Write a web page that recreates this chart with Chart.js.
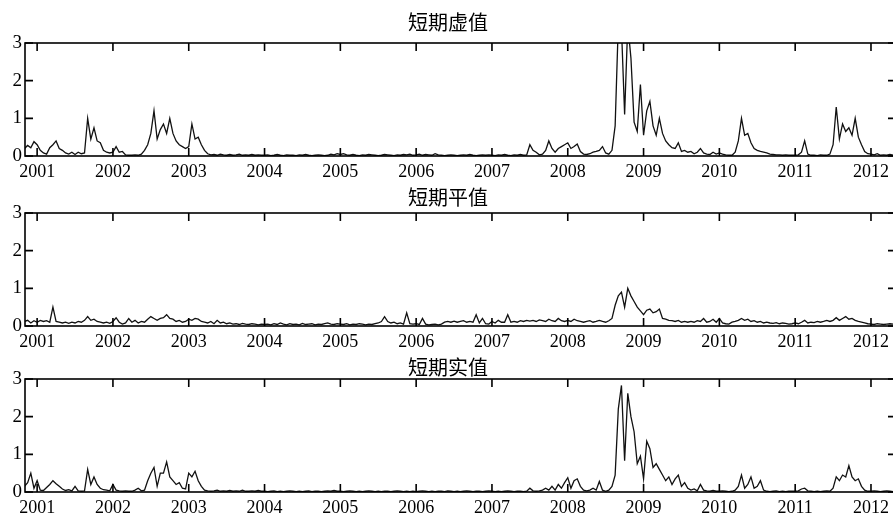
<!DOCTYPE html>
<html>
<head>
<meta charset="utf-8">
<script src="https://cdn.jsdelivr.net/npm/chart.js@4.4.0/dist/chart.umd.min.js"></script>
<style>
    html, body { margin: 0; padding: 0; background: #fff; overflow: hidden; width: 893px; height: 515px; }
    canvas { position: absolute; left: 0; }
</style>
</head>
<body>
<canvas id="c1" width="905" height="180" style="top:0px"></canvas>
<canvas id="c2" width="905" height="180" style="top:170px"></canvas>
<canvas id="c3" width="905" height="180" style="top:336px"></canvas>
<script>
// Semi-monthly samples, Nov 2000 .. Apr 2012 (4 + 11*24 + 9 values)
const startYear = 2000 + 10 / 12;
const stepYear = 1 / 24;

const yearTicks = [2001, 2002, 2003, 2004, 2005, 2006, 2007, 2008, 2009, 2010, 2011, 2012];
const valueTicks = [0, 1, 2, 3];
const titles = ["短期虚值", "短期平值", "短期实值"];

// 短期虚值
const otmValues = [
    0.20, 0.28, 0.22, 0.38,
    0.30, 0.15, 0.08, 0.05, 0.22, 0.30, 0.40, 0.20, 0.15, 0.08, 0.05, 0.10, 0.04, 0.10, 0.06, 0.08, 1.00, 0.45, 0.75, 0.40, 0.35, 0.15, 0.10, 0.08,
    0.10, 0.25, 0.10, 0.12, 0.03, 0.02, 0.02, 0.03, 0.02, 0.05, 0.15, 0.30, 0.60, 1.20, 0.45, 0.70, 0.85, 0.60, 1.00, 0.60, 0.40, 0.30, 0.25, 0.20,
    0.25, 0.85, 0.45, 0.50, 0.30, 0.15, 0.06, 0.03, 0.04, 0.02, 0.05, 0.03, 0.02, 0.04, 0.02, 0.03, 0.05, 0.02, 0.03, 0.02, 0.04, 0.02, 0.03, 0.02,
    0.02, 0.03, 0.01, 0.02, 0.04, 0.02, 0.01, 0.03, 0.02, 0.02, 0.01, 0.03, 0.02, 0.04, 0.02, 0.01, 0.02, 0.03, 0.02, 0.01, 0.02, 0.05, 0.03, 0.06,
    0.04, 0.06, 0.03, 0.02, 0.04, 0.02, 0.01, 0.03, 0.02, 0.04, 0.03, 0.02, 0.01, 0.02, 0.04, 0.03, 0.02, 0.01, 0.03, 0.02, 0.04, 0.03, 0.05, 0.02,
    0.03, 0.05, 0.02, 0.04, 0.03, 0.02, 0.06, 0.03, 0.02, 0.01, 0.02, 0.03, 0.02, 0.01, 0.02, 0.03, 0.02, 0.04, 0.02, 0.01, 0.02, 0.03, 0.02, 0.03,
    0.02, 0.01, 0.03, 0.02, 0.04, 0.02, 0.01, 0.03, 0.02, 0.04, 0.02, 0.03, 0.30, 0.15, 0.10, 0.03, 0.05, 0.15, 0.40, 0.20, 0.10, 0.20, 0.25, 0.30,
    0.35, 0.20, 0.25, 0.32, 0.12, 0.05, 0.04, 0.06, 0.10, 0.12, 0.15, 0.25, 0.08, 0.05, 0.15, 0.80, 3.50, 3.40, 1.10, 3.50, 2.60, 0.90, 0.65, 1.90,
    0.55, 1.20, 1.45, 0.80, 0.55, 1.00, 0.60, 0.40, 0.30, 0.22, 0.20, 0.35, 0.12, 0.15, 0.10, 0.12, 0.06, 0.10, 0.20, 0.08, 0.05, 0.04, 0.10, 0.05,
    0.08, 0.05, 0.03, 0.02, 0.02, 0.10, 0.40, 1.00, 0.55, 0.60, 0.35, 0.20, 0.15, 0.12, 0.10, 0.08, 0.05, 0.04, 0.03, 0.03, 0.02, 0.03, 0.02, 0.02,
    0.02, 0.03, 0.10, 0.40, 0.05, 0.02, 0.02, 0.01, 0.03, 0.02, 0.02, 0.05, 0.30, 1.30, 0.45, 0.85, 0.65, 0.75, 0.55, 1.00, 0.50, 0.30, 0.12, 0.06,
    0.05, 0.03, 0.06, 0.02, 0.03, 0.02, 0.04, 0.02, 0.03
];

// 短期平值
const atmValues = [
    0.12, 0.15, 0.08, 0.14,
    0.10, 0.15, 0.12, 0.14, 0.10, 0.50, 0.12, 0.10, 0.08, 0.10, 0.07, 0.10, 0.08, 0.12, 0.10, 0.15, 0.25, 0.15, 0.18, 0.12, 0.10, 0.08, 0.10, 0.07,
    0.12, 0.22, 0.10, 0.05, 0.08, 0.20, 0.10, 0.15, 0.08, 0.12, 0.10, 0.18, 0.25, 0.20, 0.15, 0.20, 0.22, 0.30, 0.20, 0.18, 0.12, 0.15, 0.10, 0.12,
    0.18, 0.15, 0.20, 0.18, 0.12, 0.10, 0.08, 0.12, 0.06, 0.15, 0.08, 0.10, 0.06, 0.08, 0.05, 0.06, 0.04, 0.07, 0.05, 0.04, 0.06, 0.05, 0.03, 0.05,
    0.04, 0.05, 0.03, 0.06, 0.04, 0.08, 0.05, 0.03, 0.06, 0.04, 0.05, 0.03, 0.07, 0.04, 0.05, 0.06, 0.03, 0.05, 0.04, 0.06, 0.08, 0.05, 0.04, 0.06,
    0.05, 0.04, 0.06, 0.03, 0.05, 0.04, 0.06, 0.05, 0.03, 0.05, 0.04, 0.06, 0.08, 0.12, 0.25, 0.12, 0.08, 0.10, 0.06, 0.08, 0.05, 0.35, 0.06, 0.05,
    0.06, 0.04, 0.20, 0.05, 0.03, 0.04, 0.05, 0.03, 0.05, 0.10, 0.12, 0.10, 0.13, 0.10, 0.12, 0.14, 0.10, 0.12, 0.10, 0.30, 0.08, 0.20, 0.06, 0.05,
    0.12, 0.08, 0.15, 0.10, 0.10, 0.30, 0.10, 0.12, 0.10, 0.14, 0.12, 0.15, 0.13, 0.15, 0.12, 0.16, 0.14, 0.12, 0.18, 0.14, 0.12, 0.20, 0.14, 0.12,
    0.15, 0.12, 0.18, 0.14, 0.12, 0.10, 0.12, 0.14, 0.10, 0.12, 0.15, 0.12, 0.10, 0.14, 0.20, 0.55, 0.80, 0.90, 0.50, 1.00, 0.80, 0.65, 0.50, 0.40,
    0.30, 0.42, 0.45, 0.35, 0.38, 0.45, 0.20, 0.18, 0.15, 0.14, 0.12, 0.15, 0.10, 0.12, 0.10, 0.12, 0.10, 0.14, 0.12, 0.20, 0.10, 0.12, 0.18, 0.10,
    0.20, 0.08, 0.06, 0.05, 0.10, 0.12, 0.15, 0.20, 0.15, 0.18, 0.12, 0.14, 0.10, 0.12, 0.08, 0.10, 0.08, 0.07, 0.09, 0.06, 0.08, 0.07, 0.05, 0.06,
    0.08, 0.06, 0.10, 0.15, 0.08, 0.10, 0.09, 0.12, 0.10, 0.12, 0.15, 0.12, 0.15, 0.22, 0.15, 0.20, 0.25, 0.18, 0.20, 0.15, 0.12, 0.10, 0.08, 0.06,
    0.05, 0.04, 0.06, 0.05, 0.04, 0.05, 0.06, 0.05, 0.04
];

// 短期实值
const itmValues = [
    0.15, 0.25, 0.50, 0.10,
    0.30, 0.05, 0.04, 0.12, 0.20, 0.30, 0.22, 0.15, 0.08, 0.04, 0.06, 0.03, 0.15, 0.03, 0.02, 0.03, 0.60, 0.20, 0.40, 0.20, 0.10, 0.06, 0.05, 0.03,
    0.20, 0.05, 0.03, 0.02, 0.03, 0.02, 0.02, 0.05, 0.10, 0.03, 0.05, 0.30, 0.50, 0.65, 0.15, 0.50, 0.50, 0.80, 0.40, 0.30, 0.20, 0.25, 0.10, 0.08,
    0.50, 0.40, 0.55, 0.30, 0.15, 0.05, 0.03, 0.02, 0.03, 0.05, 0.02, 0.03, 0.02, 0.04, 0.02, 0.03, 0.02, 0.05, 0.02, 0.02, 0.03, 0.02, 0.04, 0.02,
    0.02, 0.01, 0.02, 0.03, 0.01, 0.02, 0.01, 0.02, 0.03, 0.02, 0.01, 0.02, 0.01, 0.02, 0.03, 0.01, 0.02, 0.02, 0.01, 0.02, 0.03, 0.02, 0.04, 0.02,
    0.02, 0.01, 0.02, 0.03, 0.02, 0.01, 0.02, 0.01, 0.02, 0.03, 0.02, 0.01, 0.02, 0.01, 0.02, 0.02, 0.01, 0.02, 0.03, 0.02, 0.01, 0.02, 0.01, 0.02,
    0.01, 0.02, 0.03, 0.02, 0.01, 0.02, 0.01, 0.02, 0.02, 0.01, 0.03, 0.02, 0.01, 0.02, 0.01, 0.02, 0.03, 0.02, 0.01, 0.02, 0.02, 0.01, 0.02, 0.03,
    0.02, 0.01, 0.02, 0.01, 0.02, 0.03, 0.02, 0.01, 0.02, 0.02, 0.01, 0.02, 0.10, 0.03, 0.02, 0.03, 0.05, 0.10, 0.05, 0.15, 0.05, 0.20, 0.10, 0.25,
    0.38, 0.10, 0.30, 0.35, 0.15, 0.05, 0.03, 0.05, 0.10, 0.05, 0.28, 0.05, 0.02, 0.05, 0.15, 0.45, 2.20, 2.83, 0.83, 2.62, 2.00, 1.60, 0.75, 0.95,
    0.35, 1.35, 1.15, 0.65, 0.75, 0.60, 0.45, 0.30, 0.40, 0.20, 0.35, 0.45, 0.15, 0.25, 0.10, 0.05, 0.08, 0.03, 0.20, 0.05, 0.03, 0.02, 0.04, 0.02,
    0.02, 0.03, 0.02, 0.01, 0.02, 0.05, 0.15, 0.45, 0.10, 0.20, 0.40, 0.10, 0.15, 0.30, 0.05, 0.02, 0.01, 0.02, 0.03, 0.01, 0.02, 0.01, 0.02, 0.02,
    0.02, 0.03, 0.08, 0.10, 0.03, 0.02, 0.01, 0.02, 0.01, 0.02, 0.03, 0.02, 0.10, 0.40, 0.30, 0.45, 0.40, 0.70, 0.40, 0.30, 0.35, 0.15, 0.05, 0.02,
    0.02, 0.03, 0.02, 0.01, 0.02, 0.03, 0.02, 0.01, 0.02
];

const serifFont = '"Liberation Serif", "Times New Roman", serif';
const cjkFont = '"Noto Sans CJK SC", sans-serif';

// Frame around the plot area plus inward tick marks (MATLAB style)
const frameTicks = {
    id: "frameTicks",
    afterDraw(chart) {
        const { ctx, chartArea: a, scales: { x, y } } = chart;
        ctx.save();
        ctx.strokeStyle = "#000";
        ctx.lineWidth = 1.6;
        ctx.strokeRect(a.left, a.top, a.right - a.left, a.bottom - a.top);
        ctx.beginPath();
        x.ticks.forEach((t) => {
            const px = x.getPixelForValue(t.value);
            ctx.moveTo(px, a.bottom);
            ctx.lineTo(px, a.bottom - 8);
            ctx.moveTo(px, a.top);
            ctx.lineTo(px, a.top + 8);
        });
        y.ticks.forEach((t) => {
            const py = y.getPixelForValue(t.value);
            ctx.moveTo(a.left, py);
            ctx.lineTo(a.left + 8, py);
            ctx.moveTo(a.right, py);
            ctx.lineTo(a.right - 8, py);
        });
        ctx.stroke();
        ctx.restore();
    },
};

function makePanel(id, title, values, titleTop, titleBottom) {
    const points = values.map((v, i) => ({ x: startYear + i * stepYear, y: v }));

    return new Chart(document.getElementById(id), {
        type: "line",
        data: {
            datasets: [
                {
                    data: points,
                    borderColor: "#111",
                    borderWidth: 1.3,
                    pointRadius: 0,
                    tension: 0,
                    fill: false,
                },
            ],
        },
        options: {
            responsive: false,
            animation: false,
            layout: { padding: { left: 0, right: 9, top: 0, bottom: 0 } },
            plugins: {
                legend: { display: false },
                tooltip: { enabled: false },
                title: {
                    display: true,
                    text: title,
                    color: "#000",
                    font: { family: cjkFont, size: 20, weight: "normal", lineHeight: 1.2 },
                    padding: { top: titleTop, bottom: titleBottom },
                },
            },
            scales: {
                x: {
                    type: "linear",
                    min: 2000.84,
                    max: 2012.33,
                    grid: { display: false, drawTicks: false },
                    border: { display: false },
                    afterBuildTicks: (s) => {
                        s.ticks = yearTicks.map((v) => ({ value: v }));
                    },
                    afterFit: (s) => {
                        s.height = 24;
                    },
                    ticks: {
                        padding: 5,
                        color: "#000",
                        autoSkip: false,
                        maxRotation: 0,
                        font: { family: serifFont, size: 18 },
                        callback: (v) => String(v),
                    },
                },
                y: {
                    min: 0,
                    max: 3,
                    grid: { display: false, drawTicks: false },
                    border: { display: false },
                    afterBuildTicks: (s) => {
                        s.ticks = valueTicks.map((v) => ({ value: v }));
                    },
                    afterFit: (s) => {
                        s.width = 25;
                    },
                    ticks: {
                        padding: 3,
                        color: "#000",
                        font: { family: serifFont, size: 19 },
                        callback: (v) => String(v),
                    },
                },
            },
        },
        plugins: [frameTicks],
    });
}

makePanel("c1", titles[0], otmValues, 10, 9);
makePanel("c2", titles[1], atmValues, 15, 4);
makePanel("c3", titles[2], itmValues, 19, 0);
</script>
</body>
</html>
